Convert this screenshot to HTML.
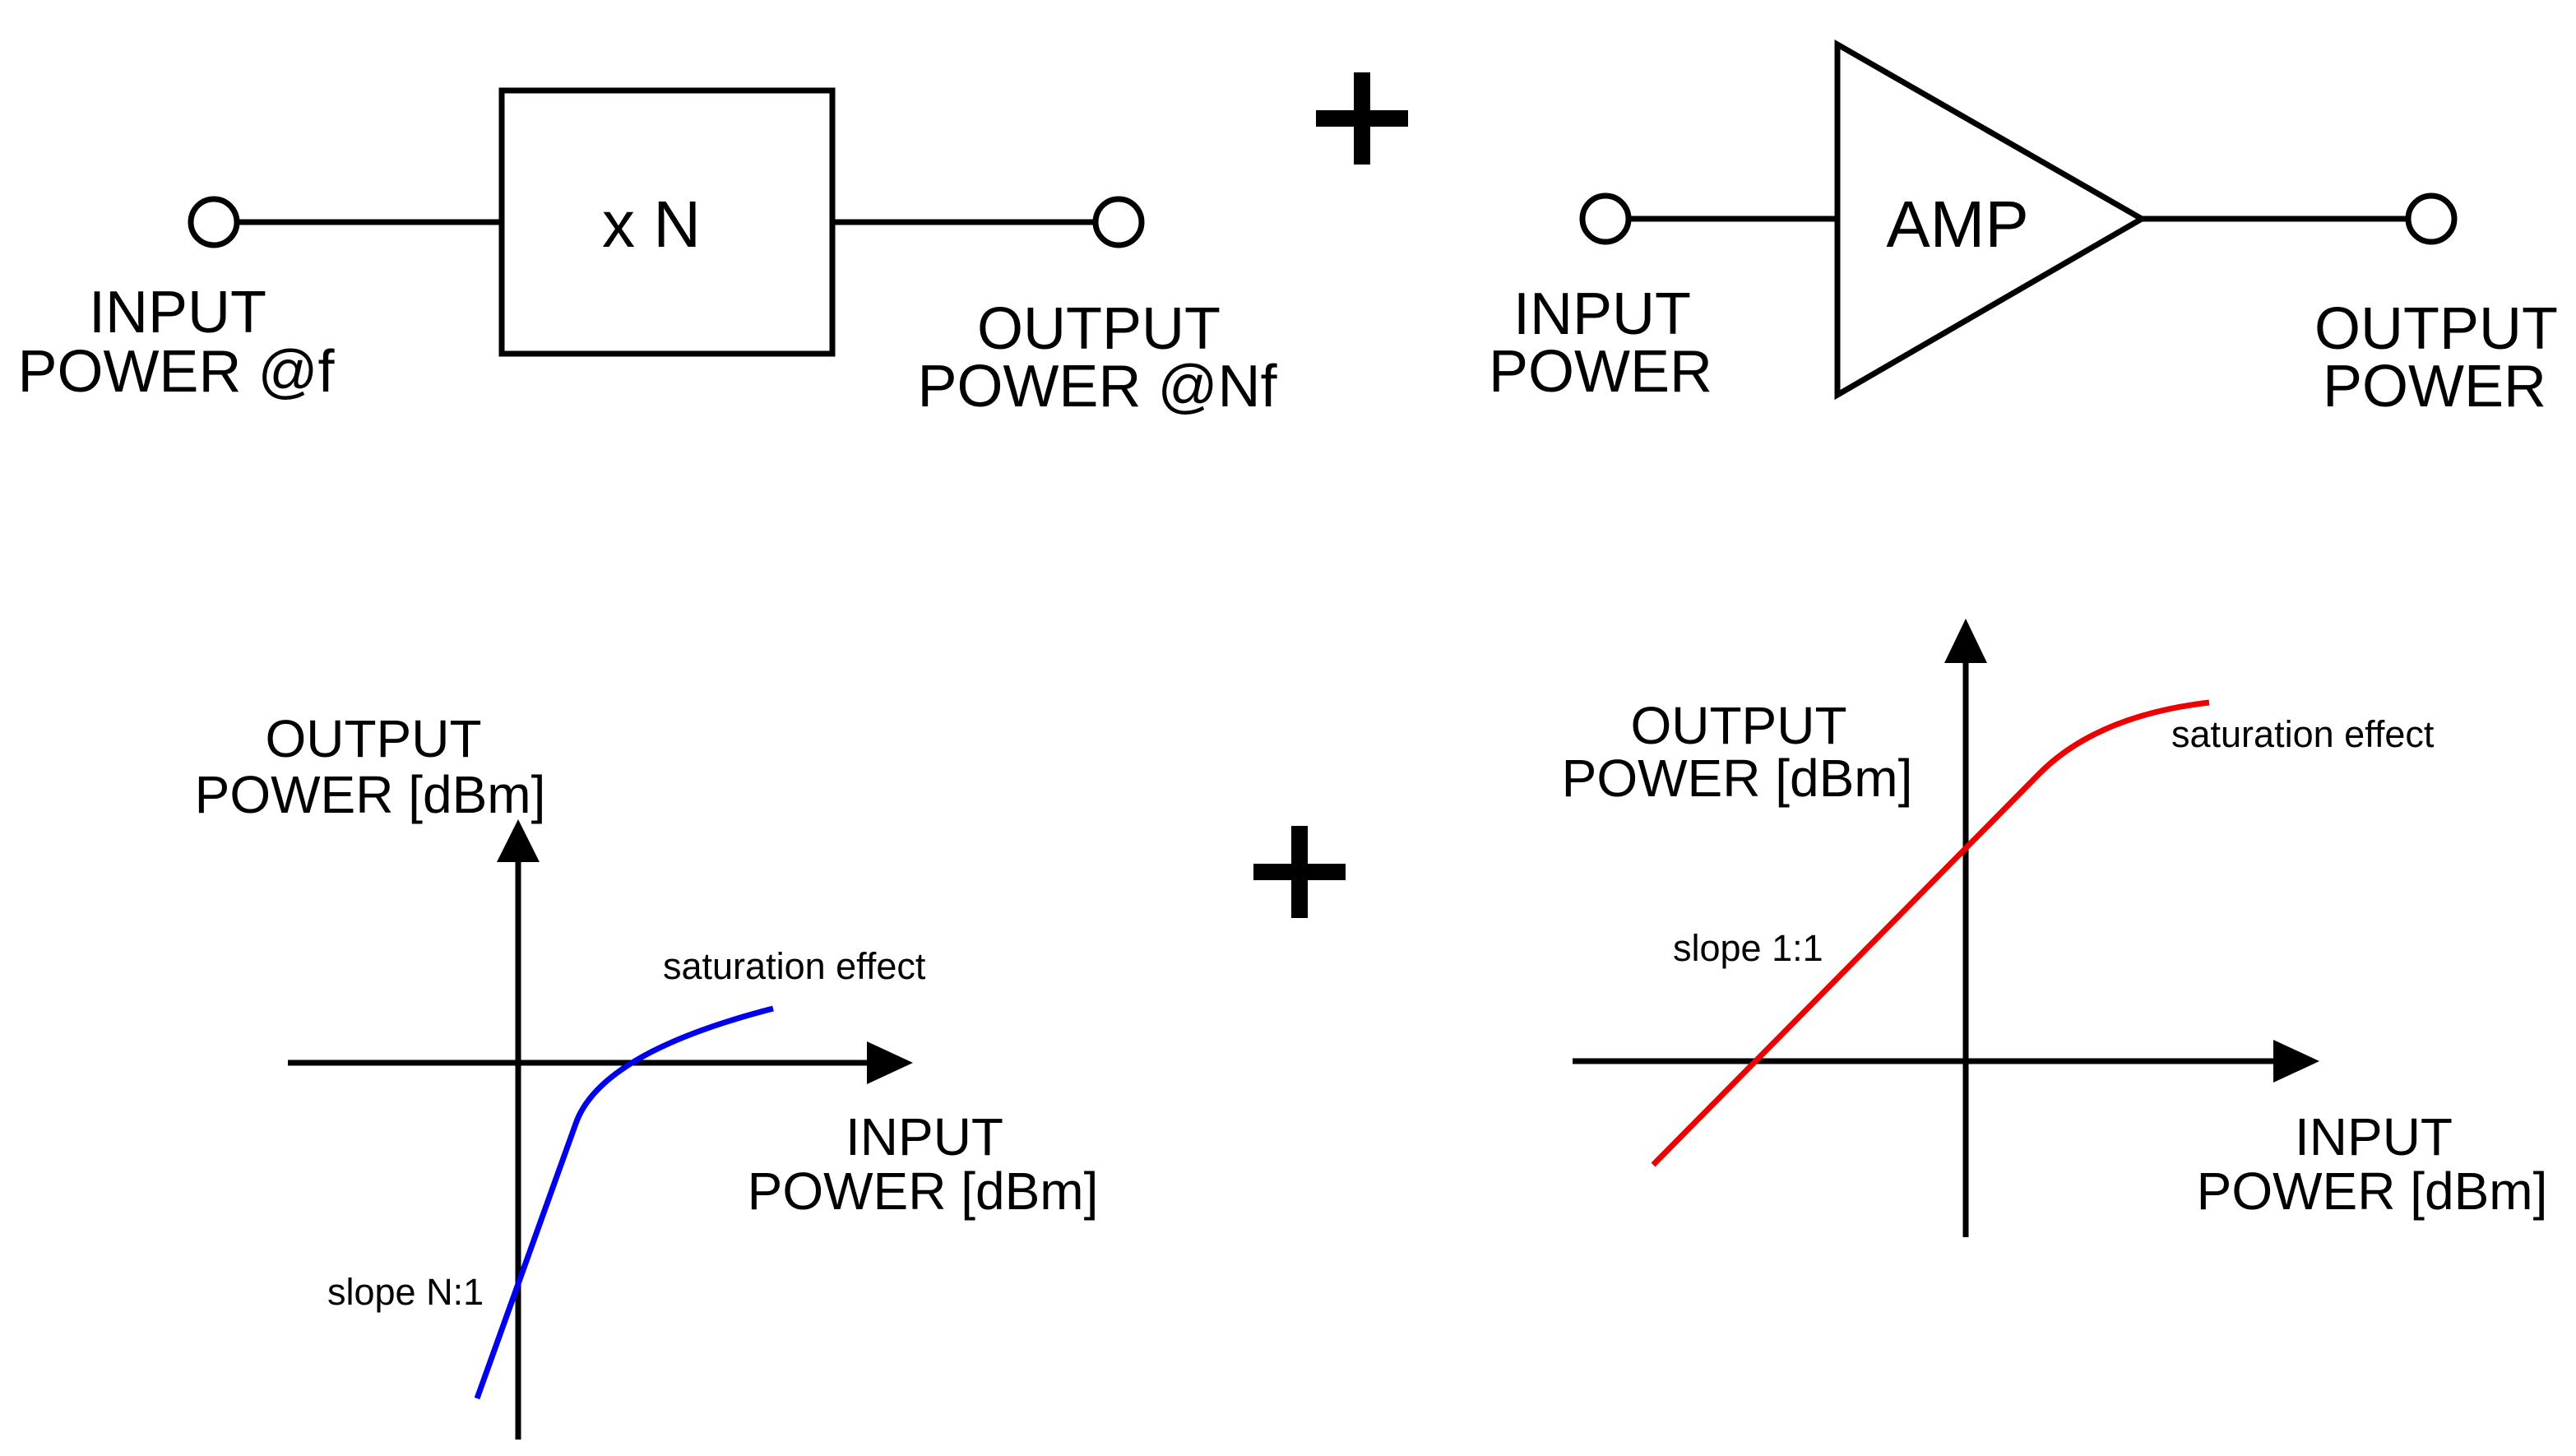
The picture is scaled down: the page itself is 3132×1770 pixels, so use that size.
<!DOCTYPE html>
<html><head><meta charset="utf-8"><style>html,body{margin:0;padding:0;background:#fff}svg{display:block}</style></head>
<body>
<svg width="3132" height="1770" viewBox="0 0 1566 885" xmlns="http://www.w3.org/2000/svg" font-family="Liberation Sans, sans-serif">
<rect width="1566" height="885" fill="#fff"/>
<g stroke="#000" fill="none" stroke-width="3.5">
  <rect x="305" y="55" width="201" height="160"/>
  <line x1="144" y1="135" x2="305" y2="135"/>
  <line x1="506" y1="135" x2="666" y2="135"/>
  <circle cx="130" cy="135" r="14"/>
  <circle cx="680" cy="135" r="14"/>
  <polygon points="1117,27 1117,240 1302,133"/>
  <line x1="990" y1="133" x2="1117" y2="133"/>
  <line x1="1302" y1="133" x2="1464" y2="133"/>
  <circle cx="976" cy="133" r="14"/>
  <circle cx="1478" cy="133" r="14"/>
  <line x1="315" y1="875" x2="315" y2="520"/>
  <line x1="175" y1="646" x2="530" y2="646"/>
  <line x1="1195" y1="752" x2="1195" y2="400"/>
  <line x1="956" y1="645" x2="1385" y2="645"/>
</g>
<g fill="#000">
  <rect x="800" y="67" width="56" height="10"/><rect x="823" y="44" width="10" height="56"/>
  <rect x="762" y="525" width="56" height="10"/><rect x="785" y="502" width="10" height="56"/>
  <polygon points="315,498 302,524 328,524"/>
  <polygon points="555,646 527,633 527,659"/>
  <polygon points="1195,376 1182,403 1208,403"/>
  <polygon points="1410,645 1382,632 1382,658"/>
</g>
<path d="M290,850 L350,683 Q365,640 470,613" stroke="#0000ee" stroke-width="3.5" fill="none"/>
<path d="M1005,708 L1240,470 Q1275,435 1343,427" stroke="#ee0000" stroke-width="3.5" fill="none"/>
<g font-size="36" fill="#000" text-anchor="middle">
  <text x="108" y="202">INPUT</text>
  <text x="107" y="238">POWER @f</text>
  <text x="668" y="212">OUTPUT</text>
  <text x="667" y="247">POWER @Nf</text>
  <text x="974" y="203">INPUT</text>
  <text x="973" y="238">POWER</text>
  <text x="1481" y="212">OUTPUT</text>
  <text x="1480" y="247">POWER</text>
  <text x="396" y="150" font-size="40">x N</text>
  <text x="1190" y="150" font-size="40">AMP</text>
  <text x="227" y="460" font-size="32">OUTPUT</text>
  <text x="225" y="494" font-size="32">POWER [dBm]</text>
  <text x="562" y="702" font-size="32">INPUT</text>
  <text x="561" y="735" font-size="32">POWER [dBm]</text>
  <text x="1057" y="452" font-size="32">OUTPUT</text>
  <text x="1056" y="484" font-size="32">POWER [dBm]</text>
  <text x="1443" y="702" font-size="32">INPUT</text>
  <text x="1442" y="735" font-size="32">POWER [dBm]</text>
</g>
<g font-size="22.5" fill="#000">
  <text x="403" y="595">saturation effect</text>
  <text x="199" y="793">slope N:1</text>
  <text x="1320" y="454">saturation effect</text>
  <text x="1017" y="584">slope 1:1</text>
</g>
</svg>
</body></html>
